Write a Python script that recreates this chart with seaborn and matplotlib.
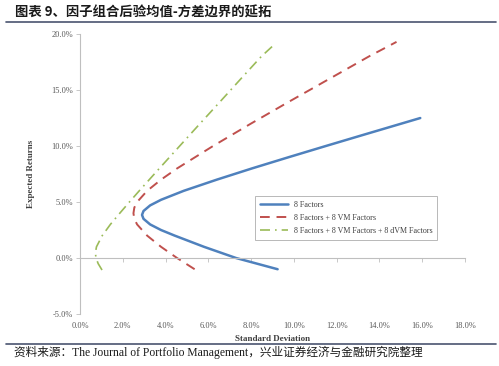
import matplotlib
matplotlib.use("Agg")
import matplotlib.pyplot as plt
import seaborn as sns
import pandas as pd
from matplotlib.ticker import FuncFormatter, MultipleLocator
from matplotlib.lines import Line2D

sns.set_theme(style="white")
plt.rcParams['font.family'] = ['Liberation Serif', 'Noto Sans CJK SC', 'DejaVu Sans']

# Data (percent)
sd_8f = [9.24, 7.30, 5.80, 4.43, 3.79, 3.28, 2.97, 2.90, 2.97, 3.28, 3.79, 4.85, 6.40, 8.04, 9.75, 11.49, 13.25, 15.91]
ret_8f = [-1.0, 0.0, 1.0, 2.0, 2.5, 3.0, 3.5, 3.85, 4.2, 4.7, 5.2, 6.0, 7.0, 8.0, 9.0, 10.0, 11.0, 12.5]

sd_vm = [5.36, 4.54, 3.79, 3.14, 2.67, 2.54, 2.50, 2.54, 2.67, 3.14, 3.79, 4.54, 6.22, 7.99, 9.81, 11.66, 13.51, 14.80]
ret_vm = [-1.0, 0.0, 1.0, 2.0, 3.0, 3.5, 4.0, 4.5, 5.0, 6.0, 7.0, 8.0, 10.0, 12.0, 14.0, 16.0, 18.0, 19.3]

sd_dvm = [1.03, 0.85, 0.75, 0.72, 0.77, 1.04, 1.42, 1.86, 2.31, 2.77, 3.71, 4.66, 5.61, 6.57, 7.52, 8.48, 9.05]
ret_dvm = [-1.07, -0.5, 0.0, 0.45, 1.0, 2.0, 3.0, 4.0, 5.0, 6.0, 8.0, 10.0, 12.0, 14.0, 16.0, 18.0, 19.0]

labels = ["8 Factors", "8 Factors + 8 VM Factors", "8 Factors + 8 VM Factors + 8 dVM Factors"]
colors = ["#4F81BD", "#C0504D", "#9BBB59"]

title = "图表 9、因子组合后验均值-方差边界的延拓"
source = "资料来源：The Journal of Portfolio Management，兴业证券经济与金融研究院整理"

fig = plt.figure(figsize=(4.99, 3.66), dpi=100)
ax = fig.add_axes([0.1603, 0.142, 0.7715, 0.765])

common = dict(sort=False, estimator=None, errorbar=None, ax=ax)
sns.lineplot(x=sd_8f, y=ret_8f, color=colors[0], linewidth=1.8, **common)
sns.lineplot(x=sd_vm, y=ret_vm, color=colors[1], linewidth=1.4, **common)
sns.lineplot(x=sd_dvm, y=ret_dvm, color=colors[2], linewidth=1.2, **common)
ax.lines[1].set_dashes([5, 3.5])
ax.lines[2].set_dashes([6, 3, 1, 3])

ax.set_xlim(0, 18)
ax.set_ylim(-5, 20)
ax.xaxis.set_major_locator(MultipleLocator(2))
ax.yaxis.set_major_locator(MultipleLocator(5))
fmt = FuncFormatter(lambda v, p: f"{v:.1f}%")
ax.xaxis.set_major_formatter(fmt)
ax.yaxis.set_major_formatter(fmt)

for s in ["top", "right"]:
    ax.spines[s].set_visible(False)
ax.spines["left"].set_color("#BFBFBF")
ax.spines["left"].set_linewidth(0.8)
ax.spines["bottom"].set_color("#BFBFBF")
ax.spines["bottom"].set_linewidth(0.8)
ax.spines["bottom"].set_position(("data", 0))

ax.tick_params(axis="y", direction="out", length=3, width=0.6, color="#BFBFBF",
               labelsize=6, labelcolor="#595959", pad=2, left=True)
ax.tick_params(axis="x", direction="out", length=3, width=0.6, color="#BFBFBF",
               labelsize=6, labelcolor="#595959", pad=43, bottom=True)

ax.set_xlabel("Standard Deviation", fontsize=6.5, fontweight="bold", color="#404040", labelpad=1)
ax.set_ylabel("Expected Returns", fontsize=6.5, fontweight="bold", color="#404040", labelpad=12)
ax.xaxis.set_label_coords(0.5, -0.075)

handles = [Line2D([], [], color=colors[0], linewidth=1.8),
           Line2D([], [], color=colors[1], linewidth=1.4, dashes=[5, 3.5]),
           Line2D([], [], color=colors[2], linewidth=1.2, dashes=[6, 3, 1, 3])]
leg = ax.legend(handles, labels, loc="upper left", bbox_to_anchor=(0.445, 0.435),
                fontsize=5.8, frameon=True, fancybox=False, edgecolor="#A6A6A6",
                handlelength=3.4, borderpad=0.6, labelspacing=0.6, handletextpad=0.8)
leg.get_frame().set_linewidth(0.7)
for t in leg.get_texts():
    t.set_color("#404040")

fig.text(0.030, 0.965, title, fontsize=9.6, fontweight="bold", color="#1a1a1a",
         family=["Noto Sans CJK SC", "DejaVu Sans"], va="center", ha="left")
fig.add_artist(Line2D([0.012, 0.994], [0.940, 0.940], color="#4a5470", linewidth=1.2))
fig.add_artist(Line2D([0.012, 0.994], [0.060, 0.060], color="#4a5470", linewidth=1.2))
fig.text(0.028, 0.037, source, fontsize=8.4, color="#1a1a1a",
         family=["Liberation Serif", "Noto Sans CJK SC"], va="center", ha="left")

fig.savefig("out.png", dpi=100)
